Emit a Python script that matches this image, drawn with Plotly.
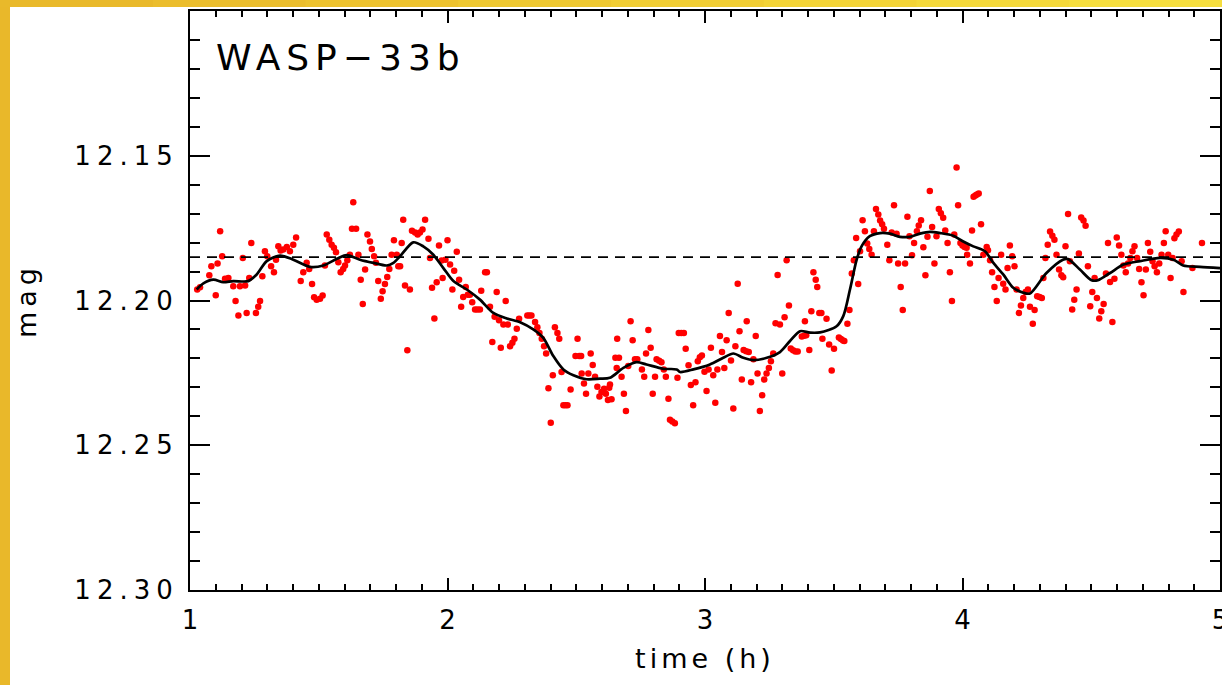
import plotly.graph_objects as go

# ---------------- data ----------------
time_pts = [
    1.028, 1.039, 1.075, 1.083, 1.100, 1.107, 1.117, 1.125, 1.136, 1.149, 1.168, 1.177, 1.188, 1.194,
    1.205, 1.214, 1.220, 1.230, 1.238, 1.256, 1.265, 1.272, 1.281, 1.291, 1.300, 1.315, 1.326, 1.334,
    1.343, 1.352, 1.362, 1.376, 1.388, 1.401, 1.412, 1.430, 1.440, 1.453, 1.463, 1.474, 1.482, 1.492,
    1.505, 1.515, 1.524, 1.531, 1.541, 1.550, 1.559, 1.567, 1.576, 1.585, 1.595, 1.602, 1.611, 1.621,
    1.629, 1.634, 1.645, 1.654, 1.663, 1.671, 1.680, 1.689, 1.699, 1.706, 1.715, 1.722, 1.731, 1.741,
    1.748, 1.757, 1.766, 1.774, 1.783, 1.792, 1.803, 1.809,
    1.816, 1.822, 1.828, 1.835, 1.844, 1.854, 1.862, 1.874, 1.884, 1.893, 1.903, 1.913, 1.926, 1.932,
    1.940, 1.949, 1.958, 1.967, 1.977, 1.981, 1.992, 2.000, 2.010, 2.019, 2.026, 2.036, 2.045, 2.053,
    2.061, 2.071, 2.079, 2.087, 2.096, 2.107, 2.116, 2.126, 2.131, 2.146, 2.153, 2.165, 2.174, 2.183,
    2.191, 2.200, 2.207, 2.217, 2.226, 2.234, 2.243, 2.252, 2.260, 2.269, 2.278, 2.310, 2.318, 2.326,
    2.340, 2.349, 2.357, 2.366, 2.375, 2.383, 2.392, 2.401, 2.409, 2.417, 2.427, 2.434, 2.443, 2.450,
    2.458, 2.466, 2.478, 2.497, 2.505, 2.512, 2.519, 2.521, 2.530, 2.538, 2.547, 2.556, 2.564, 2.573,
    2.582, 2.590, 2.598, 2.608, 2.615, 2.623, 2.628,
    2.631, 2.637, 2.652, 2.657, 2.659, 2.666, 2.676, 2.685, 2.693, 2.702, 2.711, 2.719, 2.728, 2.737,
    2.755, 2.764, 2.771, 2.780, 2.789, 2.797, 2.806, 2.812, 2.822, 2.831, 2.840, 2.848, 2.858, 2.864,
    2.873, 2.883, 2.893, 2.898, 2.908, 2.918, 2.925, 2.936, 2.945, 2.954, 2.963, 2.972, 2.980, 2.988,
    2.998, 3.006, 3.014, 3.023, 3.032, 3.040, 3.048, 3.058, 3.066, 3.075, 3.084, 3.092, 3.101, 3.110,
    3.118, 3.127, 3.134, 3.143, 3.150, 3.160, 3.170, 3.162, 3.179, 3.188, 3.197, 3.204, 3.213, 3.222,
    3.230, 3.239, 3.248, 3.256, 3.265, 3.274, 3.282, 3.291, 3.300, 3.309, 3.317, 3.326, 3.333, 3.342,
    3.351, 3.360, 3.376, 3.385, 3.393, 3.388, 3.405, 3.413, 3.421, 3.430, 3.436, 3.444,
    3.452, 3.456, 3.472, 3.482, 3.492, 3.501, 3.520, 3.528, 3.536, 3.541, 3.553, 3.561, 3.570, 3.578,
    3.587, 3.595, 3.602, 3.612, 3.621, 3.630, 3.638, 3.647, 3.656, 3.664, 3.673, 3.680, 3.688, 3.695,
    3.708, 3.716, 3.725, 3.734, 3.744, 3.750, 3.760, 3.768, 3.777, 3.786, 3.794, 3.804, 3.812, 3.823,
    3.830, 3.839, 3.848, 3.856, 3.864, 3.873, 3.882, 3.891, 3.899, 3.908, 3.916, 3.925, 3.933, 3.942,
    3.951, 3.959, 3.968, 3.977, 3.983, 3.992, 4.000, 4.008, 4.016, 4.018, 4.029, 4.037, 4.043, 4.050,
    4.056, 4.063, 4.072, 4.081, 4.094, 4.099, 4.107, 4.115, 4.124, 4.133, 4.140, 4.150, 4.158, 4.167,
    4.175, 4.184, 4.193, 4.202, 4.210, 4.219, 4.227, 4.236, 4.245, 4.254, 4.262, 4.273, 4.280,
    4.290, 4.299, 4.308, 4.314, 4.322, 4.331, 4.340, 4.349, 4.357, 4.365, 4.375, 4.384, 4.391, 4.400,
    4.410, 4.417, 4.426, 4.434, 4.443, 4.452, 4.461, 4.470, 4.478, 4.487, 4.496, 4.504, 4.513, 4.522,
    4.531, 4.539, 4.548, 4.557, 4.565, 4.573, 4.582, 4.590, 4.599, 4.608, 4.617, 4.625, 4.634, 4.643,
    4.652, 4.660, 4.668, 4.678, 4.686, 4.695, 4.703, 4.712, 4.720, 4.729, 4.738, 4.746, 4.755, 4.764,
    4.773, 4.782, 4.789, 4.799, 4.808, 4.816, 4.823, 4.831, 4.840, 4.851, 4.858, 4.893, 4.930,
]

mag_pts = [
    12.1962, 12.1954, 12.1913, 12.1882, 12.1982, 12.1872, 12.1761, 12.1847, 12.1925, 12.1922, 12.1951, 12.2002, 12.2052, 12.1951,
    12.1853, 12.1948, 12.2043, 12.1922, 12.1801, 12.2043, 12.2022, 12.2002, 12.1916, 12.1830, 12.1847, 12.1882, 12.1902, 12.1859,
    12.1813, 12.1827, 12.1824, 12.1815, 12.1830, 12.1807, 12.1782, 12.1933, 12.1902, 12.1870, 12.1891, 12.1943, 12.1989, 12.1997,
    12.1994, 12.1983, 12.1879, 12.1772, 12.1790, 12.1807, 12.1818, 12.1833, 12.1868, 12.1902, 12.1891, 12.1879, 12.1861, 12.1842,
    12.1752, 12.1661, 12.1752, 12.1842, 12.1928, 12.2012, 12.1893, 12.1772, 12.1796, 12.1822, 12.1847, 12.1870, 12.1933, 12.1994,
    12.1968, 12.1943, 12.1919, 12.1891, 12.1842, 12.1792, 12.1842, 12.1882,
    12.1882, 12.1801, 12.1721, 12.1948, 12.2172, 12.1962, 12.1759, 12.1765, 12.1772, 12.1765, 12.1755, 12.1721, 12.1787, 12.1853,
    12.1956, 12.2062, 12.1937, 12.1810, 12.1862, 12.1922, 12.1859, 12.1792, 12.1876, 12.1962, 12.1897, 12.1832, 12.1928, 12.2022,
    12.1988, 12.1953, 12.1980, 12.1980, 12.2006, 12.2031, 12.2031, 12.2031, 12.1966, 12.1902, 12.1902, 12.2022, 12.2143, 12.2056,
    12.1971, 12.2068, 12.2163, 12.2083, 12.2002, 12.2083, 12.2158, 12.2146, 12.2132, 12.2098, 12.2063, 12.2052, 12.2052, 12.2052,
    12.2074, 12.2092, 12.2112, 12.2132, 12.2158, 12.2183, 12.2303, 12.2422, 12.2258, 12.2092, 12.2112, 12.2132, 12.2247, 12.2362,
    12.2362, 12.2362, 12.2307, 12.2192, 12.2132, 12.2192, 12.2192, 12.2252, 12.2287, 12.2322, 12.2252, 12.2183, 12.2223, 12.2263,
    12.2298, 12.2332, 12.2316, 12.2305, 12.2322, 12.2344, 12.2301,
    12.2290, 12.2341, 12.2198, 12.2233, 12.2132, 12.2198, 12.2263, 12.2322, 12.2382, 12.2226, 12.2072, 12.2137, 12.2203, 12.2203,
    12.2238, 12.2263, 12.2183, 12.2102, 12.2163, 12.2322, 12.2263, 12.2203, 12.2208, 12.2213, 12.2238, 12.2263, 12.2339, 12.2412,
    12.2418, 12.2424, 12.2267, 12.2112, 12.2112, 12.2112, 12.2167, 12.2224, 12.2292, 12.2362, 12.2282, 12.2210, 12.2196, 12.2190,
    12.2246, 12.2313, 12.2238, 12.2163, 12.2258, 12.2353, 12.2238, 12.2123, 12.2178, 12.2233, 12.2137, 12.2043, 12.2207, 12.2373,
    12.2158, 12.1942, 12.2106, 12.2273, 12.2171, 12.2175, 12.2178, 12.2072, 12.2282, 12.2203, 12.2123, 12.2252, 12.2382, 12.2327,
    12.2273, 12.2252, 12.2233, 12.2210, 12.2183, 12.2079, 12.1912, 12.2083, 12.2252, 12.2058, 12.1861, 12.2017, 12.2166, 12.2172,
    12.2176, 12.2176, 12.2124, 12.2122, 12.2120, 12.2072, 12.2171, 12.2037, 12.1902, 12.1928, 12.1953, 12.2043,
    12.2043, 12.2132, 12.2063, 12.2152, 12.2242, 12.2167, 12.2128, 12.2133, 12.2138, 12.2140, 12.2080, 12.2033, 12.1907, 12.1861,
    12.1784, 12.1943, 12.1830, 12.1723, 12.1761, 12.1803, 12.1822, 12.1842, 12.1761, 12.1684, 12.1703, 12.1724, 12.1737, 12.1752,
    12.1807, 12.1861, 12.1765, 12.1671, 12.1769, 12.1872, 12.1953, 12.2033, 12.1872, 12.1711, 12.1778, 12.1844, 12.1801, 12.1761,
    12.1741, 12.1723, 12.1816, 12.1913, 12.1780, 12.1622, 12.1746, 12.1872, 12.1778, 12.1684, 12.1699, 12.1714, 12.1758, 12.1801,
    12.1902, 12.2002, 12.1772, 12.1541, 12.1671, 12.1801, 12.1810, 12.1815, 12.1818, 12.1842, 12.1872, 12.1758, 12.1642, 12.1637,
    12.1634, 12.1630, 12.1737, 12.1842, 12.1815, 12.1826, 12.1861, 12.1902, 12.1953, 12.2002, 12.1922, 12.1842, 12.1942, 12.1962,
    12.1888, 12.1810, 12.1847, 12.1882, 12.1962, 12.2043, 12.2017, 12.1991, 12.1971, 12.1962, 12.2022, 12.2080, 12.2033,
    12.1985, 12.1988, 12.1991, 12.1922, 12.1853, 12.1807, 12.1762, 12.1776, 12.1790, 12.1842, 12.1893, 12.1913, 12.1920, 12.1813,
    12.1701, 12.1864, 12.2031, 12.1997, 12.1962, 12.1838, 12.1713, 12.1724, 12.1742, 12.1882, 12.2020, 12.1971, 12.1922, 12.1991,
    12.2062, 12.2037, 12.2012, 12.1907, 12.1801, 12.1936, 12.2074, 12.1925, 12.1782, 12.1810, 12.1842, 12.1879, 12.1902, 12.1872,
    12.1853, 12.1830, 12.1813, 12.1853, 12.1891, 12.1937, 12.1982, 12.1893, 12.1801, 12.1832, 12.1864, 12.1882, 12.1902, 12.1872,
    12.1842, 12.1801, 12.1761, 12.1842, 12.1922, 12.1853, 12.1785, 12.1772, 12.1762, 12.1864, 12.1971, 12.1888, 12.1801,
]

fit_time = [
    1.026, 1.052, 1.091, 1.129, 1.168, 1.226, 1.259, 1.298, 1.350, 1.401, 1.466, 1.518, 1.570, 1.608,
    1.660, 1.712, 1.764, 1.790, 1.816, 1.867, 1.906, 1.945, 1.984, 2.023, 2.075, 2.126, 2.178, 2.230,
    2.282, 2.333, 2.372, 2.411, 2.450, 2.489, 2.540, 2.592, 2.631, 2.683, 2.734, 2.773, 2.838, 2.890,
    2.903, 2.955, 3.019, 3.071, 3.110, 3.149, 3.188, 3.240, 3.291, 3.330, 3.369, 3.408, 3.447, 3.511,
    3.537, 3.563, 3.589, 3.608, 3.640, 3.680, 3.718, 3.757, 3.796, 3.835, 3.874, 3.913, 3.964, 4.003,
    4.042, 4.087, 4.120, 4.158, 4.197, 4.236, 4.262, 4.326, 4.390, 4.410, 4.456, 4.501, 4.526, 4.573,
    4.625, 4.689, 4.767, 4.819, 4.857, 4.922, 5.000,
]
fit_mag = [
    12.1962, 12.1941, 12.1928, 12.1937, 12.1933, 12.1933, 12.1910, 12.1864, 12.1845, 12.1859, 12.1884, 12.1879, 12.1856, 12.1843,
    12.1859, 12.1870, 12.1879, 12.1870, 12.1847, 12.1799, 12.1813, 12.1842, 12.1888, 12.1933, 12.1962, 12.1997, 12.2043, 12.2062,
    12.2075, 12.2100, 12.2129, 12.2192, 12.2238, 12.2258, 12.2272, 12.2270, 12.2267, 12.2233, 12.2213, 12.2221, 12.2236, 12.2238,
    12.2247, 12.2238, 12.2221, 12.2198, 12.2183, 12.2198, 12.2206, 12.2198, 12.2178, 12.2140, 12.2106, 12.2111, 12.2110, 12.2089,
    12.2054, 12.1962, 12.1859, 12.1813, 12.1778, 12.1767, 12.1769, 12.1780, 12.1780, 12.1769, 12.1763, 12.1767, 12.1776, 12.1796,
    12.1813, 12.1830, 12.1870, 12.1910, 12.1956, 12.1973, 12.1976, 12.1905, 12.1859, 12.1857, 12.1893, 12.1930, 12.1930, 12.1905,
    12.1876, 12.1864, 12.1853, 12.1859, 12.1879, 12.1884, 12.1888,
]

ref_mag = 12.185
x_ticks = [1, 2, 3, 4, 5]
x_ticktext = ["1", "2", "3", "4", "5"]
y_ticks = [12.15, 12.20, 12.25, 12.30]
y_ticktext = ["12.15", "12.20", "12.25", "12.30"]
label_text = "WASP\u221233b"
x_title = "time (h)"
y_title = "mag"

FONT = "DejaVu Sans"


def spaced(s, px):
    return '<span style="letter-spacing:%dpx">%s</span>' % (px, s)


fig = go.Figure()
fig.add_trace(go.Scatter(
    x=time_pts, y=mag_pts, mode="markers",
    marker=dict(color="#ff0000", size=6.5, line=dict(width=0)),
    hoverinfo="skip",
))
fig.add_trace(go.Scatter(
    x=fit_time, y=fit_mag, mode="lines",
    line=dict(color="black", width=2.7, shape="spline", smoothing=0.8),
    hoverinfo="skip",
))
fig.add_hline(y=ref_mag, line=dict(color="black", width=1.9, dash="10px,7px"))

# decorative yellow frame (left and top bands of the slide)
W, H = 1222, 685
ml, mr, mt, mb = 190, 2, 11, 95
pw, ph = W - ml - mr, H - mt - mb


def px_x(p):
    return (p - ml) / pw


def px_y(p):
    return 1 - (p - mt) / ph


fig.add_shape(type="rect", xref="paper", yref="paper",
              x0=px_x(0), x1=px_x(10), y0=px_y(H), y1=px_y(0),
              fillcolor="#e9b82a", line=dict(width=0), layer="above")
top_cols = ["#e9b92a", "#ebbd2c", "#edc22e", "#efc830", "#f1cd33", "#f3d336", "#f5d93a", "#f6de3e"]
nseg = len(top_cols)
for i, c in enumerate(top_cols):
    fig.add_shape(type="rect", xref="paper", yref="paper",
                  x0=px_x(W * i / nseg), x1=px_x(W * (i + 1) / nseg + 1),
                  y0=px_y(7), y1=px_y(0),
                  fillcolor=c, line=dict(width=0), layer="above")

fig.add_annotation(text=spaced(label_text, 6), xref="paper", yref="paper",
                   x=px_x(214), y=px_y(58), xanchor="left", yanchor="middle",
                   showarrow=False, font=dict(family=FONT, size=36, color="black"))

axis_common = dict(
    showline=True, linecolor="black", linewidth=2, mirror="allticks",
    ticks="inside", tickcolor="black", tickwidth=2,
    showgrid=False, zeroline=False,
    tickfont=dict(family=FONT, size=26, color="black"),
    ticklabeloverflow="allow",
)

fig.update_xaxes(
    range=[1, 5], tickvals=x_ticks, ticktext=x_ticktext, ticklen=12, ticklabelstandoff=6,
    minor=dict(dtick=0.1, tick0=1, ticks="inside", ticklen=6, tickwidth=1.5, tickcolor="black", showgrid=False),
    title=dict(text=spaced(x_title, 4), font=dict(family=FONT, size=27, color="black"), standoff=15),
    **axis_common,
)
fig.update_yaxes(
    range=[12.30, 12.10], tickvals=y_ticks, ticktext=[spaced(t, 6) for t in y_ticktext],
    ticklen=20, ticklabelstandoff=4,
    minor=dict(dtick=0.01, tick0=12.10, ticks="inside", ticklen=10, tickwidth=1.5, tickcolor="black", showgrid=False),
    title=dict(text=spaced(y_title, 5), font=dict(family=FONT, size=27, color="black"), standoff=30),
    **axis_common,
)

fig.update_layout(
    width=W, height=H,
    margin=dict(l=ml, r=mr, t=mt, b=mb, autoexpand=False),
    paper_bgcolor="white", plot_bgcolor="white",
    showlegend=False,
    font=dict(family=FONT, color="black"),
)

fig.write_html("out.html", config={"displayModeBar": False},
               post_script="document.body.style.margin='0';")
